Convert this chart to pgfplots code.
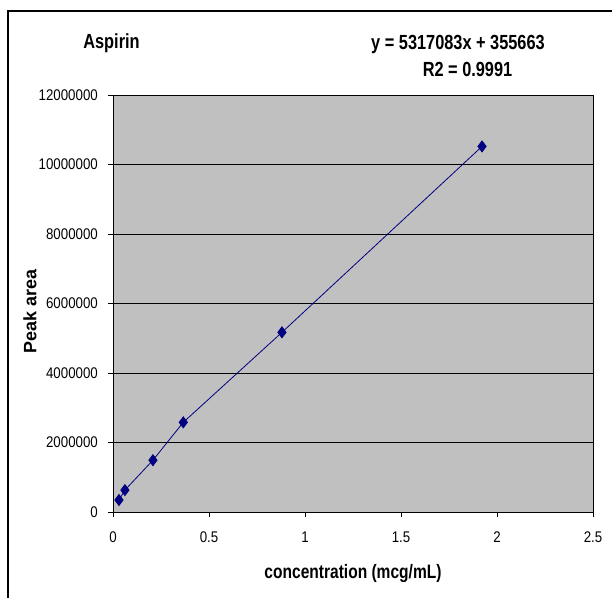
\documentclass[border=0pt]{standalone}
\usepackage{fontspec}
\setmainfont[FakeStretch=0.86]{Liberation Sans}
\newfontfamily\titlefont[FakeStretch=0.8]{Liberation Sans}
\newfontfamily\widefont{Liberation Sans}
\usepackage{pgfplots}
\pgfplotsset{compat=1.18}
\definecolor{plotgray}{RGB}{192,192,192}
\definecolor{navy}{RGB}{0,0,128}

\begin{document}
\begin{tikzpicture}
\useasboundingbox (0,0) rectangle (612bp,598bp);
% chart frame (cut off at right and bottom)
\draw[line width=1.3bp] (8bp,0) -- (8bp,587bp) -- (612bp,587bp);
\begin{axis}[
    at={(113bp,86bp)},
    anchor=south west,
    scale only axis,
    width=480bp,
    height=417bp,
    xmin=0, xmax=2.5,
    ymin=0, ymax=12000000,
    xtick={0,0.5,1,1.5,2,2.5},
    ytick={0,2000000,4000000,6000000,8000000,10000000,12000000},
    scaled ticks=false,
    /pgf/number format/assume math mode=true,
    /pgf/number format/fixed,
    /pgf/number format/1000 sep={},
    axis background/.style={fill=plotgray},
    ymajorgrids,
    grid style={black, line width=0.7bp},
    axis line style={line width=0.8bp},
    tick align=outside,
    xtick pos=bottom,
    ytick pos=left,
    major tick length=5bp,
    tick style={black, line width=0.8bp},
    tick label style={font=\fontsize{15.5}{17}\selectfont},
    yticklabel style={anchor=east, inner sep=0pt, xshift=-10bp},
    xticklabel style={anchor=north, inner sep=0pt, yshift=-15bp},
    xlabel={concentration (mcg/mL)},
    ylabel={Peak area},
    xlabel style={font=\titlefont\bfseries\fontsize{19.5}{21}\selectfont,
        at={(axis description cs:0.5,0)}, anchor=north, inner sep=0pt, yshift=-52bp},
    ylabel style={font=\widefont\bfseries\fontsize{18}{20}\selectfont,
        at={(axis description cs:0,0.5)}, anchor=center, inner sep=0pt,
        xshift=-8bp, yshift=83bp},
]
\addplot[navy, line width=0.8bp, mark=diamond*, mark size=5.5bp,
    mark options={fill=navy, draw=navy}] coordinates {
    (0.031, 345000)
    (0.062, 630000)
    (0.208, 1490000)
    (0.366, 2580000)
    (0.880, 5170000)
    (1.922, 10520000)
};
\end{axis}
\node[font=\titlefont\bfseries\fontsize{20.5}{22}\selectfont, anchor=base] at (111.5bp,549bp) {Aspirin};
\node[font=\titlefont\bfseries\fontsize{20.5}{22}\selectfont, anchor=base] at (458bp,548bp) {y = 5317083x + 355663};
\node[font=\titlefont\bfseries\fontsize{20.5}{22}\selectfont, anchor=base] at (467.5bp,521bp) {R2 = 0.9991};
\end{tikzpicture}
\end{document}
